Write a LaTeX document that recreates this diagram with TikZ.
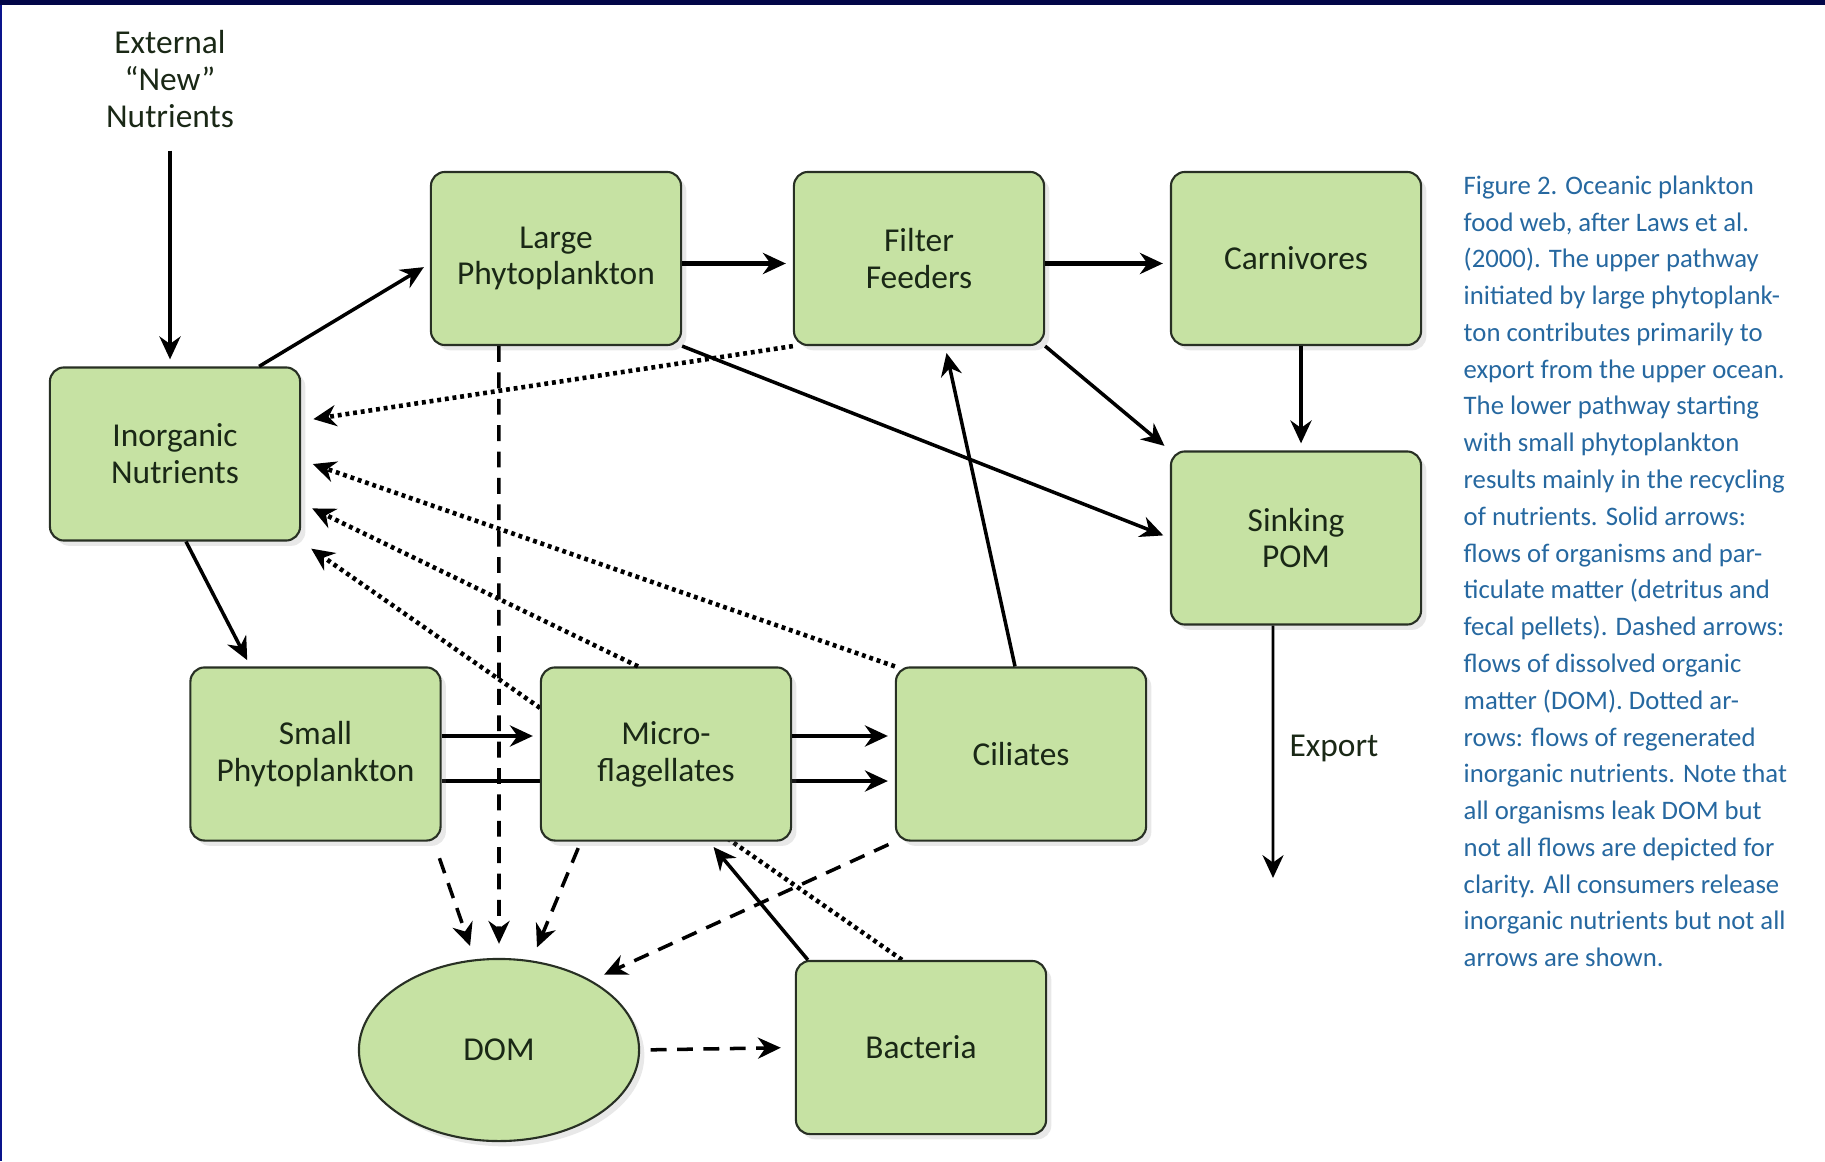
\documentclass[tikz,border=0pt]{standalone}
\usepackage{fontspec}
\setmainfont{Carlito}
\usetikzlibrary{arrows.meta,
                shapes.geometric,
                shadows}

\definecolor{boxgreen}{RGB}{198,226,163}
\definecolor{boxline}{RGB}{40,48,36}
\definecolor{boxtext}{RGB}{26,40,22}
\definecolor{capblue}{RGB}{38,104,160}
\definecolor{topnavy}{RGB}{2,6,72}
\definecolor{sideblue}{RGB}{10,20,140}

\pgfdeclarelayer{back}
\pgfsetlayers{back,main}

\tikzset{
    box/.style = {draw = boxline, line width = 0.6pt, fill = boxgreen, rounded corners = 4pt,
                  minimum width = 2.5cm, minimum height = 1.73cm, align = center,
                  text = boxtext, font = \fontsize{9.5}{10.5}\selectfont,
                  drop shadow = {opacity = 0.18, shadow xshift = 1.5pt, shadow yshift = -1.5pt}},
    solidflow/.style = {-{Stealth[length = 6.5pt, width = 6pt]}, line width = 1pt, shorten > = 2pt},
    domflow/.style = {solidflow, dash pattern = on 4.5pt off 3pt, shorten > = 4pt},
    nutflow/.style = {solidflow, line width = 1.3pt, dash pattern = on 1.1pt off 1.1pt, shorten > = 3.5pt}
}

\begin{document}
\begin{tikzpicture}[x = 0.01cm, y = -0.01cm]
        \useasboundingbox (0, 0) rectangle (1825, 1161);
        \fill [topnavy] (0, 0) rectangle (1825, 5);
        \fill [sideblue] (0, 5) rectangle (2, 1161);

        \node [box] (large) at (556, 258.5) {Large\\Phytoplankton};
        \node [box] (filter) at (919, 258.5) {Filter\\Feeders};
        \node [box] (carniv) at (1296, 258.5) {Carnivores};
        \node [box] (inorg) at (175, 454) {Inorganic\\Nutrients};
        \node [box] (pom) at (1296, 538) {Sinking\\POM};
        \node [box] (small) at (315.5, 754) {Small\\Phytoplankton};
        \node [box] (micro) at (666, 754) {Micro-\\flagellates};
        \node [box] (cil) at (1021, 754) {Ciliates};
        \node [box, ellipse, minimum width = 2.8cm, minimum height = 1.82cm] (dom) at (499, 1050) {DOM};
        \node [box] (bact) at (921, 1047.5) {Bacteria};

        \node [align = center, text = boxtext, font = \fontsize{9.5}{10.5}\selectfont] (ext) at (170, 79) {External\\“New”\\Nutrients};
        \node [text = boxtext, font = \fontsize{9.5}{10.5}\selectfont] (export) at (1334, 748) {Export};
        \coordinate (expend) at (1273, 885);

        \node [anchor = north west, align = left, inner sep = 0pt, text = capblue,
               font = \fontsize{7.6}{10.46}\selectfont] (caption) at (1463, 175) {Figure 2. Oceanic plankton\\
food web, after Laws et al.\\
(2000). The upper pathway\\
initiated by large phytoplank-\\
ton contributes primarily to\\
export from the upper ocean.\\
The lower pathway starting\\
with small phytoplankton\\
results mainly in the recycling\\
of nutrients. Solid arrows:\\
flows of organisms and par-\\
ticulate matter (detritus and\\
fecal pellets). Dashed arrows:\\
flows of dissolved organic\\
matter (DOM). Dotted ar-\\
rows: flows of regenerated\\
inorganic nutrients. Note that\\
all organisms leak DOM but\\
not all flows are depicted for\\
clarity. All consumers release\\
inorganic nutrients but not all\\
arrows are shown.};

        \begin{pgfonlayer}{back}
        \draw [solidflow] ([yshift = -0.27cm]small.east) -- ([yshift = -0.27cm]cil.west);
        \draw [nutflow] ([xshift = -0.19cm]bact.north) -- (inorg.south east);
        \end{pgfonlayer}

        \draw [solidflow, shorten < = 3pt] (ext) -- (ext |- inorg.north);
        \draw [solidflow] ([xshift = -0.42cm]inorg.north east) -- ([yshift = -0.05cm]large.west);
        \draw [solidflow, line width = 1.3pt] ([yshift = -0.05cm]large.east) -- ([yshift = -0.05cm]filter.west);
        \draw [solidflow, line width = 1.3pt] ([yshift = -0.05cm]filter.east) -- ([yshift = -0.05cm]carniv.west);
        \draw [solidflow] ([xshift = 0.05cm]carniv.south) -- ([xshift = 0.05cm]pom.north);
        \draw [solidflow] (filter.south east) -- (pom.north west);
        \draw [solidflow] (large.south east) -- (pom.west);
        \draw [solidflow, line width = 0.8pt] ([xshift = -0.23cm]pom.south) -- (expend);
        \draw [solidflow] ([xshift = 0.11cm]inorg.south) -- ([xshift = -0.65cm]small.north);
        \draw [solidflow, line width = 1.3pt] ([yshift = 0.18cm]small.east) -- ([yshift = 0.18cm]micro.west);
        \draw [solidflow, line width = 1.3pt] ([yshift = 0.18cm]micro.east) -- ([yshift = 0.18cm]cil.west);
        \draw [solidflow] ([xshift = -0.06cm]cil.north) -- ([xshift = 0.26cm]filter.south);
        \draw [solidflow] ([xshift = 0.13cm]bact.north west) -- ([xshift = 0.43cm]micro.south);

        \draw [domflow] ([xshift = -0.57cm]large.south) -- (dom.north);
        \draw [domflow, shorten < = 5pt] ([xshift = -0.08cm]small.south east) -- (dom.105);
        \draw [domflow, shorten < = 2pt] ([xshift = 0.41cm]micro.south west) -- (dom.70);
        \draw [domflow, shorten < = 2pt] (cil.south west) -- (dom.37);
        \draw [domflow, shorten < = 3pt] (dom.east) -- (bact.west);

        \draw [nutflow] (filter.south west) -- ([yshift = 0.33cm]inorg.east);
        \draw [nutflow] (cil.north west) -- ([yshift = -0.06cm]inorg.east);
        \draw [nutflow] ([xshift = -0.28cm]micro.north) -- ([yshift = -0.49cm]inorg.east);
\end{tikzpicture}
\end{document}
